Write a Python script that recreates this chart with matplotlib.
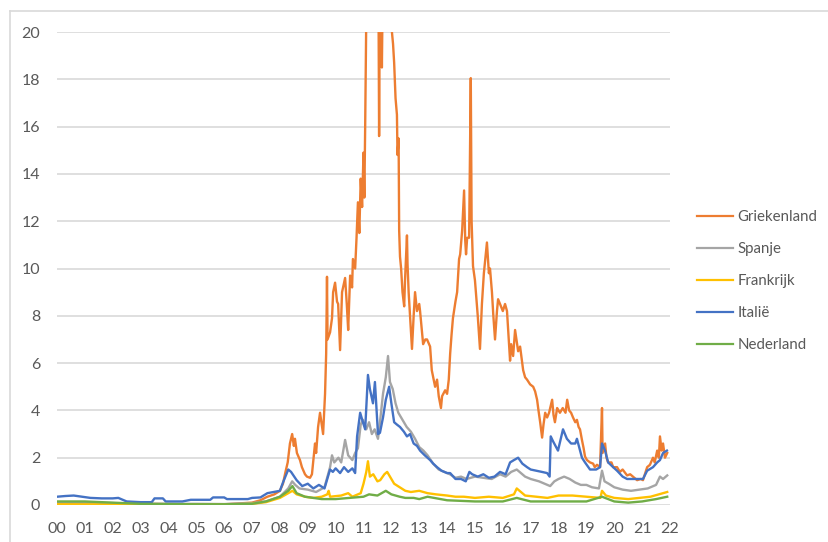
import matplotlib
matplotlib.use("Agg")
import matplotlib.pyplot as plt
from matplotlib.lines import Line2D

# ---- data (x = years since 2000, y = spread in %-points) ----
gr_x = [0.0, 1.0, 2.0, 3.0, 4.0, 5.0, 6.0, 7.0, 7.3, 7.55, 7.8, 8.0, 8.11, 8.2, 8.28, 8.36, 8.44, 8.5, 8.54, 8.61,
        8.72, 8.79, 8.9, 8.97, 9.08, 9.15, 9.26, 9.3, 9.37, 9.44, 9.5, 9.55, 9.62, 9.66, 9.69, 9.71, 9.8, 9.87, 9.91,
        9.98, 10.05, 10.09, 10.16, 10.23, 10.34, 10.4, 10.45, 10.52, 10.59, 10.62, 10.7, 10.75, 10.8, 10.85, 10.9,
        10.95, 11.0, 11.03, 11.06, 11.1, 11.13, 11.3, 11.5, 11.54, 11.56, 11.58, 11.62, 11.66, 11.7, 11.8, 11.95,
        12.02, 12.06, 12.1, 12.15, 12.2, 12.22, 12.26, 12.28, 12.31, 12.35, 12.4, 12.46, 12.49, 12.56, 12.58, 12.62,
        12.67, 12.74, 12.8, 12.85, 12.92, 13.0, 13.03, 13.14, 13.22, 13.28, 13.39, 13.45, 13.5, 13.57, 13.64, 13.7,
        13.78, 13.82, 13.93, 14.0, 14.06, 14.11, 14.16, 14.21, 14.3, 14.36, 14.43, 14.47, 14.54, 14.61, 14.65,
        14.68, 14.72, 14.79, 14.85, 14.88, 14.9, 14.93, 15.0, 15.1, 15.18, 15.25, 15.32, 15.43, 15.5, 15.54, 15.61,
        15.66, 15.72, 15.79, 15.83, 15.9, 16.0, 16.08, 16.15, 16.26, 16.3, 16.37, 16.44, 16.5, 16.55, 16.62, 16.73,
        16.8, 16.87, 16.98, 17.09, 17.16, 17.23, 17.28, 17.34, 17.41, 17.46, 17.52, 17.59, 17.66, 17.77, 17.82,
        17.87, 17.95, 18.05, 18.15, 18.25, 18.31, 18.38, 18.45, 18.52, 18.6, 18.66, 18.72, 18.77, 18.84, 18.9,
        18.95, 19.02, 19.13, 19.24, 19.3, 19.38, 19.49, 19.56, 19.58, 19.67, 19.72, 19.78, 19.9, 19.96, 20.1, 20.2,
        20.3, 20.46, 20.57, 20.67, 20.82, 20.95, 21.03, 21.1, 21.18, 21.28, 21.39, 21.45, 21.54, 21.6, 21.64, 21.7,
        21.75, 21.82, 21.9]
gr_y = [0.1, 0.08, 0.06, 0.05, 0.04, 0.03, 0.03, 0.1, 0.2, 0.35, 0.45, 0.6, 0.9, 1.4, 1.8, 2.6, 3.0, 2.5, 2.8, 2.2,
        1.9, 1.6, 1.3, 1.2, 1.15, 1.3, 2.6, 2.2, 3.3, 3.9, 3.4, 3.0, 4.7, 6.4, 9.65, 7.0, 7.3, 7.9, 9.0,
        9.4, 8.6, 8.5, 6.55, 9.0, 9.6, 8.5, 7.4, 9.7, 9.2, 10.4, 10.0, 11.3, 12.8, 11.5, 13.8,
        12.6, 14.9, 13.0, 16.0, 20.5, 25, 28, 26, 21, 15.6, 21, 24, 18.5, 23, 30, 26,
        20, 19.5, 18.7, 17.2, 16.5, 14.8, 15.5, 11.6, 10.5, 10.0, 9.0, 8.4, 9.5, 11.4, 10.2, 9.0,
        8.0, 6.6, 8.0, 9.0, 8.2, 8.5, 8.2, 6.8, 7.0, 7.0, 6.7, 5.7, 5.4, 5.0, 5.3, 4.6,
        4.1, 4.6, 4.85, 4.7, 5.3, 6.4, 7.2, 7.9, 8.6, 9.0, 10.4, 10.6, 11.6, 13.3, 11.2,
        10.6, 11.3, 11.3, 18.05, 12.0, 11.2, 10.1, 9.5, 8.0, 6.6, 8.5, 9.8, 11.1, 9.8, 10.0, 9.0,
        8.0, 7.0, 8.2, 8.7, 8.5, 8.2, 8.5, 8.2, 6.1, 6.8, 6.3, 7.4, 6.9, 6.5, 6.7, 5.7,
        5.4, 5.3, 5.1, 5.0, 4.8, 4.45, 4.0, 3.5, 2.85, 3.4, 3.9, 3.7, 3.9, 4.45, 3.8,
        3.5, 4.1, 3.9, 4.1, 3.9, 4.45, 4.0, 3.9, 3.7, 3.5, 3.6, 3.3, 3.2, 2.75, 2.4,
        2.05, 1.9, 1.8, 1.75, 1.6, 1.7, 1.6, 4.1, 2.2, 2.6, 2.0, 1.8, 1.8, 1.6, 1.6, 1.4,
        1.5, 1.25, 1.3, 1.2, 1.05, 1.1, 1.05, 1.3, 1.6, 1.7, 2.0, 1.8, 2.3, 2.0, 2.9, 2.3,
        2.6, 2.0, 2.2]

es_x = [0, 1, 2, 3, 4, 5, 6, 7, 7.5, 8.0, 8.3, 8.44, 8.55, 8.7, 9.0, 9.3, 9.6, 9.8, 9.87, 9.95, 10.1, 10.2, 10.34,
        10.45, 10.6, 10.7, 10.8, 10.9, 10.98, 11.1, 11.2, 11.3, 11.4, 11.52, 11.6, 11.7, 11.8, 11.88, 11.95, 12.05,
        12.15, 12.25, 12.4, 12.55, 12.7, 12.85, 13.0, 13.15, 13.3, 13.5, 13.7, 13.9, 14.1, 14.3, 14.5, 14.7, 15.0,
        15.3, 15.6, 15.9, 16.1, 16.3, 16.5, 16.65, 16.8, 17.0, 17.3, 17.5, 17.7, 17.85, 18.0, 18.2, 18.4, 18.6, 18.8,
        19.0, 19.2, 19.45, 19.56, 19.65, 19.8, 20.0, 20.3, 20.6, 20.9, 21.2, 21.5, 21.64, 21.75, 21.9]
es_y = [0.12, 0.1, 0.08, 0.05, 0.05, 0.05, 0.04, 0.08, 0.15, 0.35, 0.7, 1.0, 0.85, 0.7, 0.65, 0.55, 0.75, 1.6, 2.1,
        1.8, 2.0, 1.8, 2.75, 2.1, 1.9, 2.2, 2.4, 3.4, 3.6, 3.2, 3.5, 3.0, 3.2, 2.8, 3.6, 4.7, 5.4, 6.3, 5.2, 4.9,
        4.3, 3.9, 3.6, 3.3, 3.1, 2.8, 2.45, 2.3, 2.1, 1.75, 1.5, 1.4, 1.3, 1.15, 1.2, 1.1, 1.2,
        1.15, 1.1, 1.3, 1.2, 1.4, 1.5, 1.35, 1.2, 1.1, 1.0, 0.9, 0.8, 1.0, 1.1, 1.2, 1.1, 0.95, 0.85,
        0.85, 0.75, 0.7, 1.45, 1.0, 0.9, 0.75, 0.65, 0.6, 0.65, 0.7, 0.85, 1.2, 1.1, 1.25]

fr_x = [0, 3, 6, 7, 7.5, 8.0, 8.3, 8.45, 8.6, 8.9, 9.2, 9.5, 9.7, 9.75, 9.8, 10.2, 10.45, 10.6, 10.9, 11.0, 11.1,
        11.16, 11.23, 11.35, 11.5, 11.6, 11.75, 11.85, 11.95, 12.1, 12.3, 12.5, 12.7, 13.0, 13.3, 13.6, 14.0, 14.3,
        14.6, 15.0, 15.5, 16.0, 16.4, 16.5, 16.6, 16.8, 17.2, 17.6, 18.0, 18.5, 19.0, 19.5, 19.56, 19.7, 20.0,
        20.5, 20.9, 21.3, 21.6, 21.9]
fr_y = [0.03, 0.02, 0.02, 0.05, 0.12, 0.3, 0.5, 0.6, 0.45, 0.35, 0.3, 0.35, 0.45, 0.6, 0.35, 0.4, 0.5, 0.35, 0.5,
        0.9, 1.4, 1.85, 1.2, 1.3, 1.0, 1.05, 1.3, 1.4, 1.2, 0.9, 0.75, 0.6, 0.55, 0.6, 0.5, 0.45, 0.4, 0.35,
        0.35, 0.3, 0.35, 0.3, 0.45, 0.7, 0.6, 0.4, 0.35, 0.3, 0.4, 0.4, 0.35, 0.3, 0.6, 0.4, 0.3,
        0.25, 0.3, 0.35, 0.45, 0.55]

it_x = [0.0, 0.3, 0.6, 0.9, 1.2, 1.6, 2.0, 2.2, 2.5, 3.0, 3.4, 3.5, 3.8, 3.9, 4.5, 4.8, 5.5, 5.6, 6.0, 6.1, 6.85,
        7.0, 7.3, 7.55, 8.0, 8.11, 8.3, 8.4, 8.6, 8.8, 9.0, 9.2, 9.4, 9.6, 9.8, 9.9, 10.0, 10.16, 10.3, 10.45,
        10.6, 10.7, 10.77, 10.88, 10.98, 11.06, 11.16, 11.23, 11.34, 11.41, 11.52, 11.59, 11.7, 11.8, 11.92, 12.0,
        12.1, 12.2, 12.31, 12.45, 12.56, 12.67, 12.8, 12.92, 13.03, 13.2, 13.39, 13.5, 13.64, 13.8, 14.0, 14.11,
        14.3, 14.5, 14.67, 14.8, 14.9, 15.1, 15.3, 15.5, 15.7, 15.9, 16.1, 16.26, 16.4, 16.55, 16.7, 16.87, 17.0,
        17.2, 17.4, 17.59, 17.68, 17.72, 17.8, 17.98, 18.16, 18.3, 18.45, 18.6, 18.66, 18.84, 18.95, 19.13,
        19.35, 19.49, 19.56, 19.67, 19.78, 19.96, 20.1, 20.3, 20.46, 20.57, 20.8, 21.03, 21.18, 21.39, 21.54,
        21.64, 21.75, 21.89]
it_y = [0.35, 0.38, 0.4, 0.35, 0.3, 0.28, 0.28, 0.3, 0.15, 0.12, 0.12, 0.28, 0.28, 0.15, 0.15, 0.22, 0.22, 0.32,
        0.32, 0.25, 0.25, 0.3, 0.32, 0.5, 0.6, 0.95, 1.5, 1.4, 1.05, 0.8, 0.9, 0.7, 0.85, 0.7, 1.5, 1.4, 1.55,
        1.35, 1.6, 1.4, 1.55, 1.35, 2.9, 3.9, 3.5, 3.2, 5.5, 4.9, 4.3, 5.2, 3.0, 3.05, 3.7, 4.45, 5.0, 4.3,
        3.5, 3.4, 3.3, 3.1, 2.9, 3.0, 2.6, 2.5, 2.3, 2.1, 1.9, 1.75, 1.6, 1.45, 1.35, 1.35,
        1.1, 1.1, 1.0, 1.4, 1.3, 1.2, 1.3, 1.15, 1.2, 1.4, 1.3, 1.8, 1.9, 2.0, 1.75, 1.6, 1.5,
        1.45, 1.4, 1.35, 1.2, 2.9, 2.7, 2.3, 3.2, 2.8, 2.6, 2.6, 2.8, 2.0, 1.8, 1.5,
        1.5, 1.6, 2.6, 2.3, 1.8, 1.6, 1.45, 1.2, 1.1, 1.1, 1.1, 1.1, 1.45, 1.6, 1.8,
        1.9, 2.2, 2.3]

nl_x = [0, 1, 2, 3, 4, 5, 6, 7, 7.5, 8.0, 8.3, 8.45, 8.6, 8.9, 9.2, 9.5, 10.0, 10.5, 11.0, 11.2, 11.5, 11.8, 12.0,
        12.3, 12.5, 12.8, 13.0, 13.3, 14.0, 15.0, 16.0, 16.5, 17.0, 18.0, 19.0, 19.56, 20.0, 20.5, 21.0, 21.5, 21.9]
nl_y = [0.15, 0.15, 0.1, 0.05, 0.04, 0.03, 0.03, 0.05, 0.15, 0.35, 0.6, 0.8, 0.5, 0.35, 0.3, 0.25, 0.25, 0.3, 0.35,
        0.45, 0.4, 0.6, 0.45, 0.35, 0.3, 0.3, 0.25, 0.35, 0.2, 0.15, 0.15, 0.3, 0.15, 0.15, 0.15, 0.35, 0.15,
        0.1, 0.15, 0.25, 0.35]

series_names = ["Griekenland", "Spanje", "Frankrijk", "Italië", "Nederland"]
series_colors = ["#ED7D31", "#A5A5A5", "#FFC000", "#4472C4", "#70AD47"]
year_labels = ["%02d" % i for i in range(23)]
y_ticks = [0, 2, 4, 6, 8, 10, 12, 14, 16, 18, 20]

# ---- figure ----
plt.rcParams['font.family'] = ['Lato', 'DejaVu Sans']
fig = plt.figure(figsize=(8.29, 5.42), dpi=100)
ax = fig.add_axes([57/829, 1 - 505/542, (670-57)/829, (505-32)/542])

data = [(gr_x, gr_y), (es_x, es_y), (fr_x, fr_y), (it_x, it_y), (nl_x, nl_y)]
for (xs, ys), name, col in zip(data, series_names, series_colors):
    ax.plot(xs, ys, color=col, lw=1.7, label=name, solid_joinstyle='round')

ax.set_xlim(0, 22)
ax.set_ylim(0, 20)
ax.set_yticks(y_ticks)
ax.set_xticks(range(23))
ax.set_xticklabels(year_labels)
ax.grid(axis='y', color='#d9d9d9', lw=1.2)
ax.set_axisbelow(True)
for s in ax.spines.values():
    s.set_visible(False)
ax.tick_params(axis='both', length=0, labelsize=11.5, colors='#595959')
ax.tick_params(axis='y', pad=12)
ax.tick_params(axis='x', pad=12)

handles = [Line2D([0], [0], color=c, lw=1.6) for c in series_colors]
leg = fig.legend(handles, series_names, loc='upper left', bbox_to_anchor=(697/829, 1 - 210/542),
                 frameon=False, fontsize=10.8, labelspacing=1.2, handlelength=2.4, handletextpad=0.3,
                 borderpad=0, borderaxespad=0)
for t in leg.get_texts():
    t.set_color('#595959')

# chart-area border (top and left edge visible)
fig.add_artist(Line2D([10/829, 10/829], [0, 1 - 11/542], transform=fig.transFigure, color='#d9d9d9', lw=1.2))
fig.add_artist(Line2D([10/829, 1], [1 - 11/542, 1 - 11/542], transform=fig.transFigure, color='#d9d9d9', lw=1.2))

fig.savefig("out.png", dpi=100)
